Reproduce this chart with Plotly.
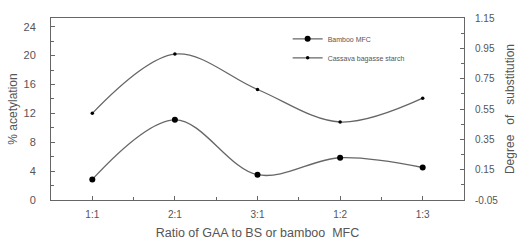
import plotly.graph_objects as go

categories = ["1:1", "2:1", "3:1", "1:2", "1:3"]
bamboo_mfc = [2.85, 11.1, 3.5, 5.85, 4.5]
cassava_starch = [12.0, 20.2, 15.3, 10.8, 14.1]
ds_ticks = [-0.05, 0.15, 0.35, 0.55, 0.75, 0.95, 1.15]

xpos = list(range(len(categories)))
font_col = "#555555"
line_col = "#666666"
fam = "Liberation Sans, Arial, sans-serif"
nb = "\u00a0"

fig = go.Figure()
fig.add_trace(go.Scatter(
    x=xpos, y=bamboo_mfc, name="Bamboo MFC", mode="lines+markers",
    line=dict(shape="spline", smoothing=1.0, color=line_col, width=1.3),
    marker=dict(color="black", size=6)))
fig.add_trace(go.Scatter(
    x=xpos, y=cassava_starch, name="Cassava bagasse starch", mode="lines+markers",
    line=dict(shape="spline", smoothing=1.0, color=line_col, width=1.3),
    marker=dict(color="black", size=3.5)))
fig.add_trace(go.Scatter(
    x=[xpos[0]], y=[ds_ticks[0]], yaxis="y2", mode="markers",
    marker=dict(opacity=0), showlegend=False, hoverinfo="skip"))

tickfont = dict(family=fam, size=10, color=font_col)
titlefont = dict(family=fam, size=12, color=font_col)

fig.update_layout(
    width=517, height=240,
    margin=dict(l=51, r=53, t=18, b=40),
    paper_bgcolor="white", plot_bgcolor="white",
    font=dict(family=fam, size=10, color=font_col),
    showlegend=True,
    legend=dict(x=0.573, y=0.965, xanchor="left", yanchor="top",
                bgcolor="rgba(0,0,0,0)", font=dict(family=fam, size=7, color=font_col),
                itemwidth=30, tracegroupgap=1),
    xaxis=dict(
        range=[-0.5, 4.5], tickmode="array", tickvals=xpos, ticktext=categories,
        ticks="inside", ticklen=4, tickcolor=line_col, showgrid=False, zeroline=False,
        showline=True, linecolor=line_col, linewidth=1, mirror=True, automargin=False,
        tickfont=tickfont, ticklabelstandoff=5,
        minor=dict(tickmode="array", tickvals=[0.5, 1.5, 2.5, 3.5], ticks="inside",
                   ticklen=3, tickcolor=line_col, showgrid=False),
        title=dict(text="Ratio of GAA to BS or bamboo" + nb + nb + "MFC",
                   font=dict(family=fam, size=12.5, color=font_col))),
    yaxis=dict(
        range=[0, 25.2], tick0=0, dtick=4, ticks="inside", ticklen=4, tickcolor=line_col,
        showgrid=False, zeroline=False, showline=True, linecolor=line_col, linewidth=1,
        automargin=False, tickfont=dict(family=fam, size=11, color=font_col),
        ticklabelstandoff=12,
        minor=dict(dtick=2, ticks="inside", ticklen=3, tickcolor=line_col, showgrid=False),
        title=dict(text="% acetylation", font=titlefont, standoff=3)),
    yaxis2=dict(
        overlaying="y", side="right", range=[-0.05, 1.15],
        tickmode="array", tickvals=ds_ticks, ticktext=[f"{v:.2f}" for v in ds_ticks],
        ticks="inside", ticklen=4, tickcolor=line_col,
        showgrid=False, zeroline=False, showline=True, linecolor=line_col, linewidth=1,
        automargin=False, tickfont=tickfont, ticklabelstandoff=8,
        minor=dict(tickmode="array", tickvals=[0.05, 0.25, 0.45, 0.65, 0.85, 1.05],
                   ticks="inside", ticklen=3, tickcolor=line_col, showgrid=False),
        title=dict(text="Degree" + nb * 3 + "of" + nb * 3 + "substitution",
                   font=titlefont, standoff=9)),
)

fig.write_html("out.html", config={"displayModeBar": False},
               post_script="document.body.style.margin='0';")
